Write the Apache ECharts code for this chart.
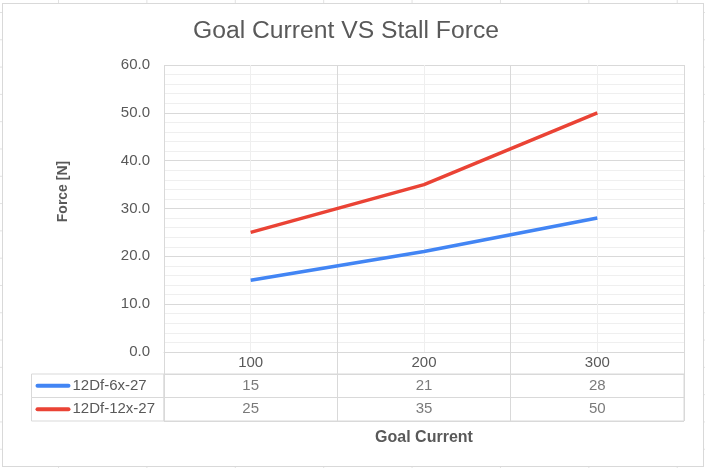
<!DOCTYPE html>
<html>
<head>
<meta charset="utf-8">
<script src="https://cdn.jsdelivr.net/npm/echarts@6/dist/echarts.min.js"></script>
<style>
  html, body { margin: 0; padding: 0; }
  body {
    width: 705px; height: 468px; position: relative; overflow: hidden;
    background-color: #fff;
    background-image:
      linear-gradient(to right, #e2e2e2 1px, transparent 1px),
      linear-gradient(to bottom, #e2e2e2 1px, transparent 1px);
    background-size: 88.4px 100%, 100% 27.3px;
    background-position: 58px 0, 0 12px;
  }
  #frame {
    position: absolute; left: 2px; top: 3px; width: 702px; height: 464px;
    box-sizing: border-box; border: 1px solid #d9d9d9; background: #fff;
  }
  #chart { position: absolute; left: 0; top: 0; width: 705px; height: 468px; }
</style>
</head>
<body>
<div id="frame"></div>
<div id="chart"></div>
<script>
const categories = ['100', '200', '300']
const seriesNames = ['12Df-6x-27', '12Df-12x-27']
const seriesColors = ['#4285f4', '#ea4335']
const force6x = [15, 21, 28]
const force12x = [25, 35, 50]
const seriesValues = [force6x, force12x]

const font = 'Liberation Sans, Arial, sans-serif'
const textColor = '#595959'
const gridColor = '#d9d9d9'
const minorColor = '#efefef'

// table cells: [column, row, value]
const tableCells = []
seriesValues.forEach((vals, row) => {
    vals.forEach((v, col) => tableCells.push([col, row, v]))
})

const rich = {
    t: { fontSize: 15, color: textColor, fontFamily: font, padding: [0, 0, 0, 2],
         align: 'left', verticalAlign: 'middle', lineHeight: 23.5 }
}
seriesColors.forEach((c, i) => {
    rich['k' + i] = { width: 35, height: 4, backgroundColor: c, borderRadius: 2,
                      align: 'left', verticalAlign: 'middle' }
})

const chart = echarts.init(document.getElementById('chart'))
chart.setOption({
    animation: false,
    textStyle: { fontFamily: font },
    title: {
        text: 'Goal Current VS Stall Force',
        left: 193, top: 19, padding: 0,
        textStyle: { fontSize: 24.7, fontWeight: 'normal', color: textColor, fontFamily: font }
    },
    grid: [
        { left: 164, top: 65, width: 520, height: 287 },
        { left: 164, top: 374, width: 520, height: 47, show: true, borderColor: gridColor, borderWidth: 1 }
    ],
    xAxis: [
        {
            type: 'category', gridIndex: 0, data: categories,
            axisLine: { show: true, lineStyle: { color: gridColor } },
            axisTick: { show: true, length: 22, lineStyle: { color: gridColor } },
            axisLabel: { margin: 3, fontSize: 15, color: textColor },
            splitLine: { show: true, lineStyle: { color: gridColor } }
        },
        {
            type: 'category', gridIndex: 1, data: categories,
            axisLine: { show: false }, axisTick: { show: false }, axisLabel: { show: false },
            splitLine: { show: true, lineStyle: { color: gridColor } },
            name: 'Goal Current', nameLocation: 'middle', nameGap: 9,
            nameTextStyle: { fontSize: 16, fontWeight: 'bold', color: textColor }
        },
        {
            // minor verticals at category centres
            type: 'value', gridIndex: 0, min: 0, max: 6, interval: 1,
            axisLine: { show: false }, axisTick: { show: false }, axisLabel: { show: false },
            splitLine: { show: true, lineStyle: { color: ['transparent', minorColor] } }
        }
    ],
    yAxis: [
        {
            type: 'value', gridIndex: 0, min: 0, max: 60, interval: 10,
            axisLine: { show: false }, axisTick: { show: false },
            axisLabel: { margin: 14, fontSize: 15, color: textColor, formatter: v => v.toFixed(1) },
            splitLine: { lineStyle: { color: gridColor } },
            minorTick: { show: false, splitNumber: 5 },
            minorSplitLine: { show: true, lineStyle: { color: minorColor } },
            name: 'Force [N]', nameLocation: 'middle', nameRotate: 90, nameGap: 94,
            nameTextStyle: { fontSize: 14, fontWeight: 'bold', color: textColor, padding: [0, 0, 0, 34] }
        },
        {
            type: 'category', gridIndex: 1, data: seriesNames, inverse: true,
            axisLine: { show: false }, axisTick: { show: false },
            splitLine: { show: true, lineStyle: { color: gridColor } },
            axisLabel: {
                interval: 0, hideOverlap: false,
                margin: 0, align: 'right', verticalAlign: 'middle',
                width: 128.5, height: 23.5, padding: [0, 0, 0, 4],
                borderColor: gridColor, borderWidth: 1,
                formatter: (v, i) => '{k' + i + '|}{t|' + v + '}',
                rich
            }
        }
    ],
    series: [
        ...seriesValues.map((vals, i) => ({
            type: 'line', name: seriesNames[i], xAxisIndex: 0, yAxisIndex: 0,
            data: vals, showSymbol: false, silent: true,
            lineStyle: { width: 3.5, color: seriesColors[i] }
        })),
        {
            type: 'scatter', xAxisIndex: 1, yAxisIndex: 1, data: tableCells,
            symbolSize: 1, itemStyle: { color: 'transparent' }, silent: true,
            label: {
                show: true, position: 'inside', fontSize: 15, color: textColor,
                formatter: p => p.value[2]
            }
        }
    ]
})
</script>
</body>
</html>
